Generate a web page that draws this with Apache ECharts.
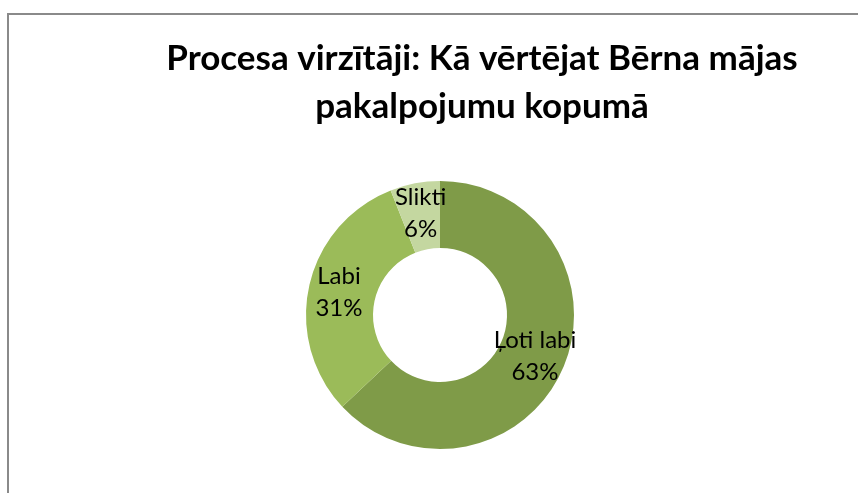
<!DOCTYPE html>
<html>
<head>
<meta charset="utf-8">
<script src="https://cdn.jsdelivr.net/npm/echarts@6/dist/echarts.min.js"></script>
<style>
  html, body { margin: 0; padding: 0; background: #fff; }
  #chart { width: 858px; height: 493px; }
</style>
</head>
<body>
<div id="chart"></div>
<script>
// dati
const categories = ['Ļoti labi', 'Labi', 'Slikti'];
const values = [63, 31, 6];
const colors = ['#7f9b48', '#9bbb59', '#c4d7a0'];

const chart = echarts.init(document.getElementById('chart'));

const option = {
  animation: false,
  title: {
    text: 'Procesa virzītāji: Kā vērtējat Bērna mājas\npakalpojumu kopumā',
    left: 477,
    top: 30,
    textAlign: 'center',
    textStyle: {
      fontFamily: 'Lato',
      fontWeight: 'bold',
      fontSize: 35,
      lineHeight: 48,
      color: '#000'
    }
  },
  graphic: [
    {
      // rāmis
      type: 'rect',
      shape: { x: 8, y: 14, width: 900, height: 600 },
      style: { fill: 'none', stroke: '#8a8a8a', lineWidth: 2 }
    }
  ],
  series: [
    {
      type: 'pie',
      center: [440, 315],
      radius: [67, 134],
      startAngle: 90,
      clockwise: true,
      data: categories.map((name, i) => ({
        name: name,
        value: values[i],
        itemStyle: { color: colors[i] }
      })),
      label: {
        show: true,
        position: 'inside',
        formatter: '{b}\n{c}%',
        fontFamily: 'Lato',
        fontSize: 24,
        lineHeight: 32,
        color: '#000'
      },
      labelLine: { show: false },
      emphasis: { disabled: true }
    }
  ]
};

chart.setOption(option);
</script>
</body>
</html>
